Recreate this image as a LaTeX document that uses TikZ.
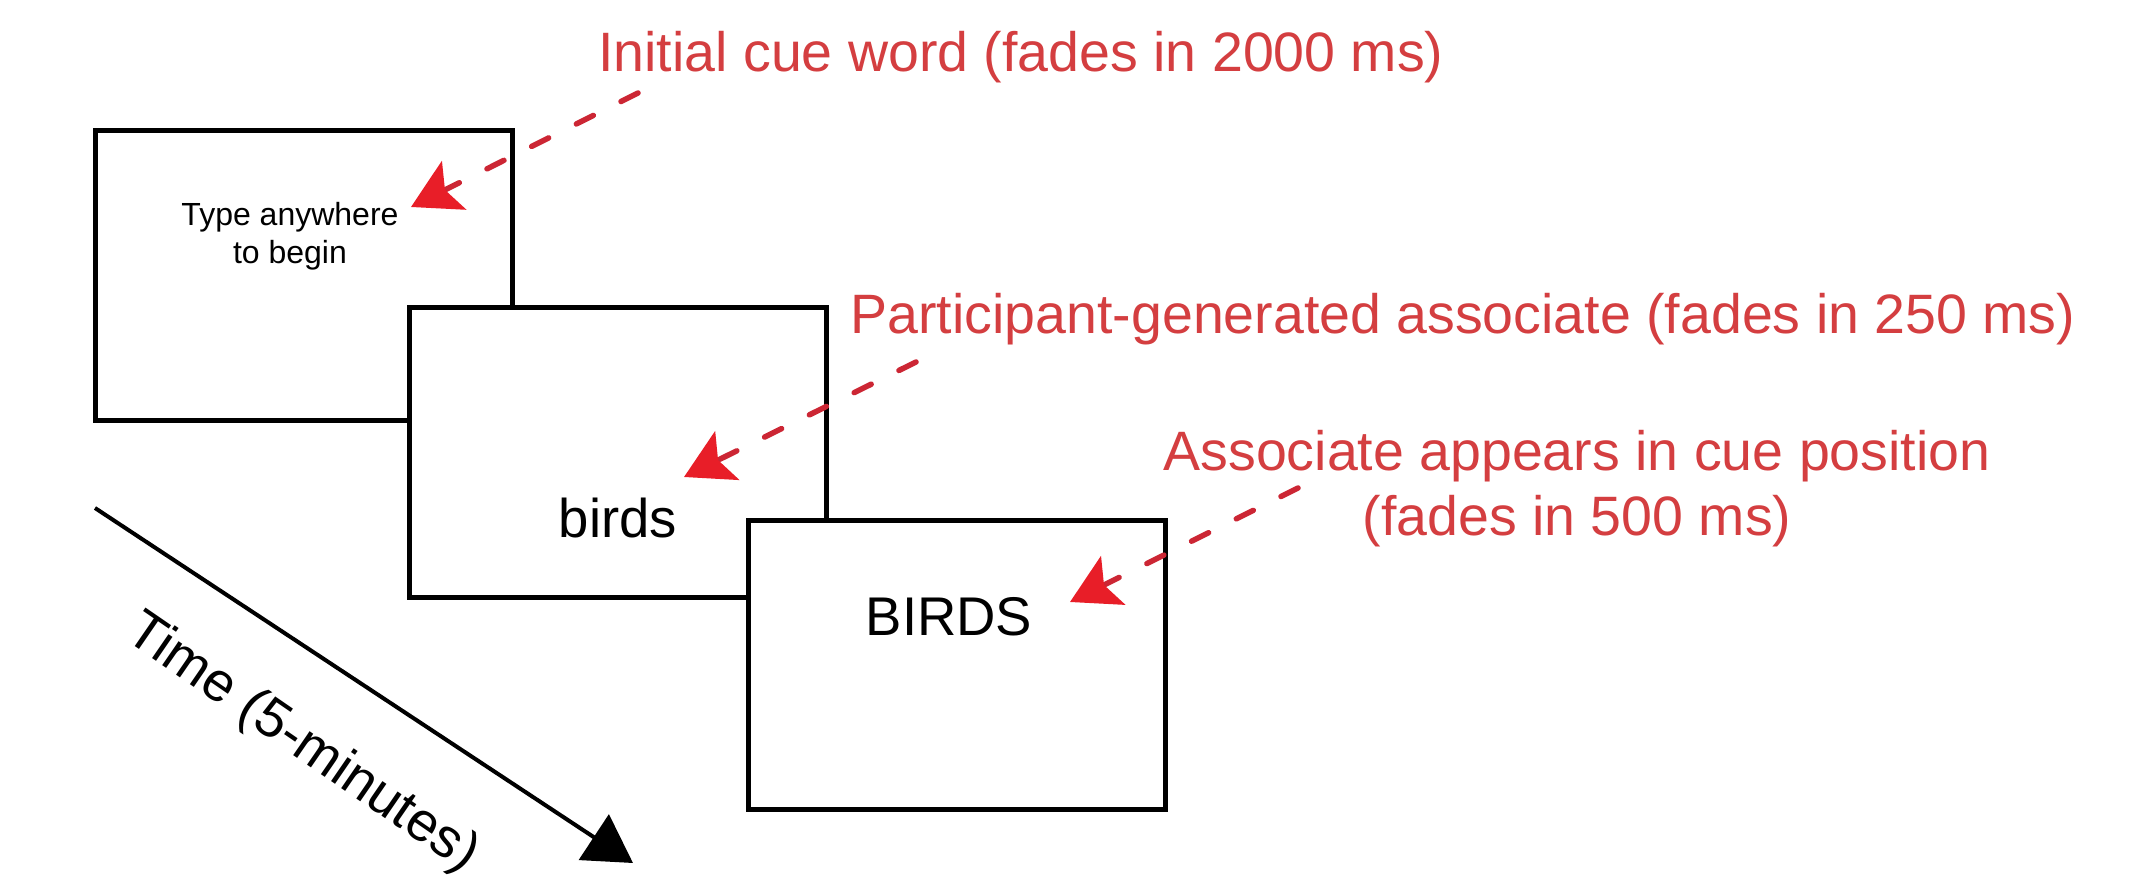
\documentclass[tikz,border=0pt]{standalone}
\usepackage{fontspec}
\setmainfont{Liberation Sans}
\usetikzlibrary{arrows.meta}
\definecolor{labelred}{RGB}{212,62,64}
\definecolor{dashred}{RGB}{204,38,52}
\definecolor{headred}{RGB}{232,30,40}
\begin{document}
\begin{tikzpicture}[x=1pt,y=-1pt,
  screen/.style={draw=black, line width=5pt, fill=white, minimum width=417pt, minimum height=289pt, anchor=north west, outer sep=0pt, inner sep=0pt},
  redlabel/.style={text=labelred, font=\fontsize{55.5}{65}\selectfont, inner sep=0pt, anchor=base, align=center},
  bigword/.style={font=\fontsize{54.5}{60}\selectfont, inner sep=0pt, anchor=base},
  cuearrow/.style={draw=dashred, line width=5.5pt, line cap=round, dash pattern=on 19pt off 31pt, -{Stealth[length=48pt,width=54pt,inset=10pt,color=headred,line cap=butt]}},
  timearrow/.style={draw=black, line width=4pt, -{Triangle[length=47pt,width=54pt]}}
]
\useasboundingbox (0,0) rectangle (2136,877);
\fill[white] (0,0) rectangle (2136,877);

% screens
\node[screen] (s1) at (95,131) {};
\node[font=\fontsize{32}{38}\selectfont, inner sep=0pt, anchor=base, align=center] (prompt) at (290,264) {Type anywhere\\to begin};
\node[screen] (s2) at (409,308) {};
\node[bigword] (birds) at (618,537) {birds};
\node[screen] (s3) at (748,520) {};
\node[bigword] (BIRDS) at (949,635) {BIRDS};

% time arrow
\coordinate (t0) at (95,508);
\coordinate (t1) at (633,863);
\draw[timearrow] (t0) -- (t1);
\node[font=\fontsize{55}{60}\selectfont, rotate=-34.5, inner sep=0pt] (time) at (302,744) {Time (5-minutes)};

% red labels
\node[redlabel] (l1) at (1021,72) {Initial cue word (fades in 2000 ms)};
\node[redlabel] (l2) at (1463,334) {Participant-generated associate (fades in 250 ms)};
\node[redlabel] (l3) at (1577,535) {Associate appears in cue position\\(fades in 500 ms)};

% cue arrows
\coordinate (a1s) at (638,93);
\coordinate (a1e) at (411,207);
\coordinate (a2s) at (916,362);
\coordinate (a2e) at (684,477);
\coordinate (a3s) at (1298,488);
\coordinate (a3e) at (1070,602);
\draw[cuearrow] (a1s) -- (a1e);
\draw[cuearrow] (a2s) -- (a2e);
\draw[cuearrow] (a3s) -- (a3e);
\end{tikzpicture}
\end{document}
